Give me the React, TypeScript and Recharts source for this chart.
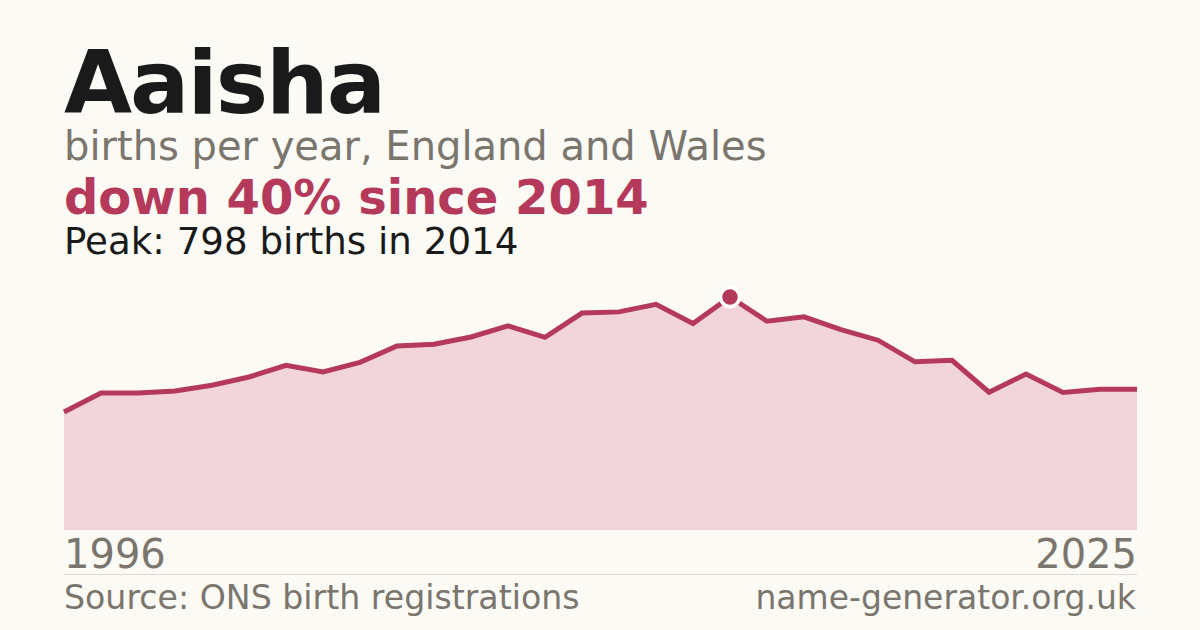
import { AreaChart, Area, XAxis, YAxis, ReferenceDot } from "recharts";

const years = [
  1996, 1997, 1998, 1999, 2000, 2001, 2002, 2003, 2004, 2005,
  2006, 2007, 2008, 2009, 2010, 2011, 2012, 2013, 2014, 2015,
  2016, 2017, 2018, 2019, 2020, 2021, 2022, 2023, 2024, 2025,
];
const births = [
  404, 469, 469, 476, 496, 524, 564, 541, 574, 630,
  636, 661, 699, 660, 743, 747, 773, 707, 798, 715,
  730, 686, 650, 576, 581, 472, 534, 471, 482, 482,
];
const edgeTicks = [1996, 2025];

const FONT = "'DejaVu Sans', sans-serif";
const BG = "#fbfaf5";
const RED = "#b5395a";
const FILL = "#f2d5da";
const GREY = "#7a756d";
const INK = "#1a1a1a";

const data = years.map((year, i) => ({ year, births: births[i] }));
const peakIndex = births.indexOf(Math.max(...births));

const EdgeTick = (props: any) => {
  const { x, y, payload } = props;
  const first = payload.value === edgeTicks[0];
  return (
    <text
      x={x}
      y={y + 38}
      textAnchor={first ? "start" : "end"}
      fill={GREY}
      fontSize={40}
      fontFamily={FONT}
    >
      {payload.value}
    </text>
  );
};

const App = () => {
  return (
    <div
      style={{
        position: "fixed",
        top: 0,
        left: 0,
        width: 1200,
        height: 630,
        background: BG,
        overflow: "hidden",
      }}
    >
      <svg width={1200} height={630} style={{ position: "absolute", top: 0, left: 0 }}>
        <text x={64} y={113} fontFamily={FONT} fontWeight="bold" fontSize={88} letterSpacing={-2} fill={INK}>
          Aaisha
        </text>
        <text x={64} y={160} fontFamily={FONT} fontSize={40} fill={GREY}>
          births per year, England and Wales
        </text>
        <text x={64} y={214} fontFamily={FONT} fontWeight="bold" fontSize={48} fill={RED}>
          down 40% since 2014
        </text>
        <text x={64} y={254} fontFamily={FONT} fontSize={37.2} fill={INK}>
          Peak: 798 births in 2014
        </text>
        <line x1={64} x2={1137} y1={574.5} y2={574.5} stroke="#dcd9d2" strokeWidth={1} />
        <text x={64} y={609} fontFamily={FONT} fontSize={33.2} fill={GREY}>
          Source: ONS birth registrations
        </text>
        <text x={1136} y={609} fontFamily={FONT} fontSize={33} fill={GREY} textAnchor="end">
          name-generator.org.uk
        </text>
      </svg>
      <div style={{ position: "absolute", top: 218, left: 54 }}>
        <AreaChart
          width={1093}
          height={362}
          data={data}
          margin={{ top: 20, right: 10, bottom: 0, left: 10 }}
        >
          <XAxis
            dataKey="year"
            type="number"
            domain={[1996, 2025]}
            ticks={edgeTicks}
            tick={<EdgeTick />}
            axisLine={false}
            tickLine={false}
            tickSize={0}
            tickMargin={0}
            height={50}
            interval={0}
          />
          <YAxis hide domain={[0, 1000]} />
          <Area
            type="linear"
            dataKey="births"
            stroke={RED}
            strokeWidth={5}
            fill={FILL}
            fillOpacity={1}
            dot={false}
            activeDot={false}
            isAnimationActive={false}
          />
          <ReferenceDot
            x={years[peakIndex]}
            y={births[peakIndex]}
            r={9.5}
            fill={RED}
            stroke="#ffffff"
            strokeWidth={3.5}
          />
        </AreaChart>
      </div>
    </div>
  );
};

export default App;
